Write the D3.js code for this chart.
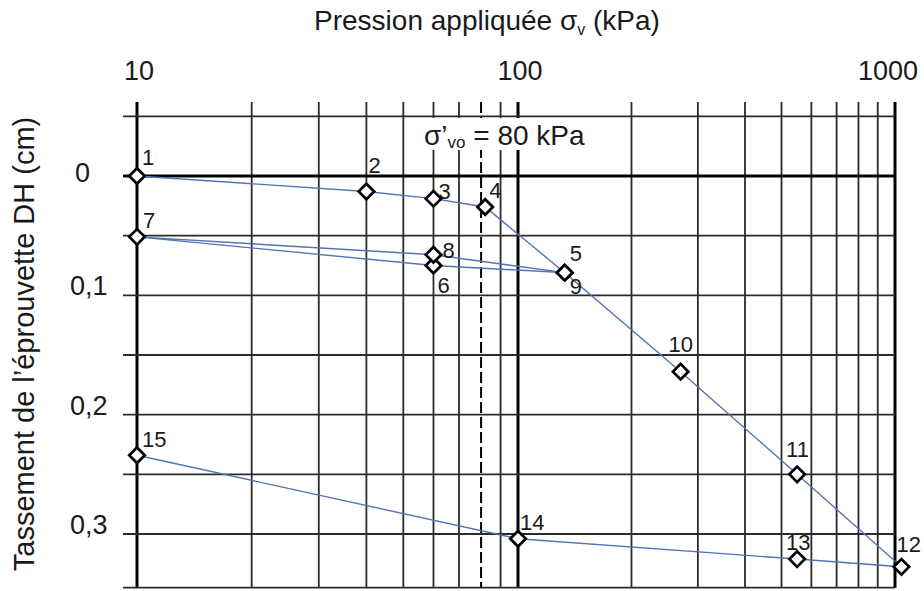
<!DOCTYPE html>
<html lang="fr">
<head>
    <meta charset="UTF-8">
    <title>Courbe de compressibilité</title>
    <script src="https://d3js.org/d3.v7.min.js"></script>
    <style>
        body { margin: 0; background: #fff; }
        text { font-family: 'Liberation Sans', Arial, sans-serif; fill: #1a1a1a; }
        .grid { stroke: #2b2b2b; stroke-width: 1.8px; }
        .grid.major { stroke: #000; stroke-width: 3px; }
        .curve { fill: none; stroke: #5373b6; stroke-width: 1.4px; }
        .pt { fill: #fff; stroke: #000; stroke-width: 2.7px; }
    </style>
</head>
<body>
<div id="chart"></div>
<script>
    // load steps, numbered 1..15
    const stepLabels = ['1','2','3','4','5','6','7','8','9','10','11','12','13','14','15'];
    // applied pressure (kPa)
    const pressure = [10, 40, 60, 82, 133, 60, 10, 60, 133, 270, 550, 1040, 550, 100, 10];
    // settlement DH (cm)
    const settlement = [0, 0.013, 0.019, 0.026, 0.081, 0.075, 0.051, 0.066, 0.081, 0.164, 0.250, 0.3275, 0.321, 0.304, 0.234];
    // label offsets around each marker [dx, dy]
    const labelOffsets = [[5,-11],[2,-19],[5,0],[4,-9],[5,-12],[4,27],[6,-9],[9,3],[5,21],[-12,-20],[-11,-17],[-5,-15],[-11,-9],[2,-9],[5,-8]];

    const xTicks = [10, 100, 1000];
    const xGrid = [10,20,30,40,50,60,70,90,100,200,300,400,500,600,700,800,900,1000];
    const yTicks = [0, 0.1, 0.2, 0.3];
    const yTickLabels = ['0', '0,1', '0,2', '0,3'];
    const yGrid = [-0.05, 0, 0.05, 0.1, 0.15, 0.2, 0.25, 0.3, 0.345];
    const sigmaPrime = 80;

    const W = 924, H = 591;
    const svg = d3.select('#chart').append('svg').attr('width', W).attr('height', H);

    const x = d3.scaleLog().domain([10, 100, 1000]).range([137, 518, 895]);
    const y = d3.scaleLinear().domain([0, 0.3]).range([176, 534]);
    const gTop = 102, gBottom = y(0.345), gLeft = 123, gRight = x(1000);

    // grid
    svg.selectAll('.vline').data(xGrid).enter().append('line')
        .attr('class', d => 'grid' + (xTicks.includes(d) ? ' major' : ''))
        .attr('x1', d => x(d)).attr('x2', d => x(d))
        .attr('y1', gTop).attr('y2', gBottom);

    svg.selectAll('.hline').data(yGrid).enter().append('line')
        .attr('class', d => 'grid' + (d === 0 ? ' major' : ''))
        .attr('x1', gLeft).attr('x2', gRight)
        .attr('y1', d => y(d)).attr('y2', d => y(d));

    // preconsolidation line
    svg.append('line')
        .attr('x1', x(sigmaPrime)).attr('x2', x(sigmaPrime))
        .attr('y1', gTop).attr('y2', gBottom)
        .attr('stroke', '#000').attr('stroke-width', 2)
        .attr('stroke-dasharray', '11,4');

    svg.append('rect').attr('x', 418).attr('y', 118).attr('width', 176).attr('height', 32).attr('fill', '#fff');
    const sig = svg.append('text').attr('x', 424).attr('y', 145).style('font-size', '28px');
    sig.append('tspan').text('σ’');
    sig.append('tspan').attr('dy', 3).style('font-size', '17px').text('vo');
    sig.append('tspan').attr('dy', -3).text(' = 80 kPa');

    // axis labels
    svg.selectAll('.xt').data(xTicks).enter().append('text')
        .attr('x', (d, i) => x(d) + (i === 2 ? -7 : 2)).attr('y', 80)
        .attr('text-anchor', 'middle').style('font-size', '27px')
        .text(d => d);

    svg.selectAll('.yt').data(yTicks).enter().append('text')
        .attr('x', (d, i) => i === 0 ? 75 : 70)
        .attr('y', (d, i) => y(d) + (i === 0 ? 6 : 0))
        .style('font-size', '27px')
        .text((d, i) => yTickLabels[i]);

    const title = svg.append('text').attr('x', 487).attr('y', 30)
        .attr('text-anchor', 'middle').style('font-size', '28px');
    title.append('tspan').text('Pression appliquée  σ');
    title.append('tspan').attr('dy', 5).style('font-size', '16px').text('v');
    title.append('tspan').attr('dy', -5).text(' (kPa)');

    svg.append('text')
        .attr('transform', 'translate(34,344) rotate(-90)')
        .attr('text-anchor', 'middle').style('font-size', '29px')
        .text('Tassement de l’éprouvette DH (cm)');

    // curve
    const pts = pressure.map((p, i) => [x(p), y(settlement[i])]);
    svg.append('path').attr('class', 'curve').attr('d', d3.line()(pts));

    const diamond = d3.symbol().type(d3.symbolSquare).size(120);
    svg.selectAll('.pt').data(pts).enter().append('path')
        .attr('class', 'pt')
        .attr('d', diamond)
        .attr('transform', d => `translate(${d[0]},${d[1]}) rotate(45)`);

    svg.selectAll('.lbl').data(pts).enter().append('text')
        .attr('x', (d, i) => d[0] + labelOffsets[i][0])
        .attr('y', (d, i) => d[1] + labelOffsets[i][1])
        .style('font-size', '22px')
        .text((d, i) => stepLabels[i]);
</script>
</body>
</html>
